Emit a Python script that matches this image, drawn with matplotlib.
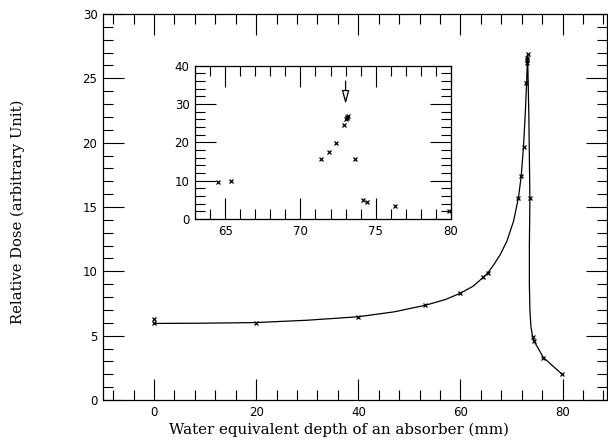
import matplotlib
matplotlib.use("Agg")
import matplotlib.pyplot as plt
from matplotlib.ticker import MultipleLocator

# measured points (depth in mm, relative dose)
depth = [0, 0, 20, 40, 53.1, 60.0, 64.5, 65.4, 71.35, 71.9, 72.35, 72.9,
         73.05, 73.1, 73.1, 73.15, 73.6, 74.15, 74.45, 76.25, 79.9]
dose = [6.3, 5.95, 6.0, 6.47, 7.36, 8.3, 9.55, 9.9, 15.7, 17.4, 19.7, 24.6,
        26.2, 26.4, 26.6, 26.9, 15.7, 4.9, 4.55, 3.3, 2.0]

# smooth guide curve
curve_x = [0, 10, 20, 30, 40, 47, 53.1, 57, 60, 62.5, 64.5, 65.4, 66.5, 67.8,
           69.1, 70.4, 71.35, 71.9, 72.35, 72.7, 72.95, 73.15, 73.4, 73.6,
           73.5, 73.5, 73.6, 73.8, 74.15, 74.45, 76.25, 79.9]
curve_y = [5.95, 5.97, 6.02, 6.2, 6.47, 6.85, 7.36, 7.8, 8.3, 8.85, 9.55, 9.9,
           10.5, 11.3, 12.35, 13.9, 15.7, 17.4, 19.7, 22.3, 24.6, 26.9, 22,
           15.7, 12, 9, 7, 5.7, 4.9, 4.55, 3.3, 2.0]

arrow_x = 73.0
arrow_top = 36.0
arrow_tip = 30.0

plt.rcParams['font.family'] = ['DejaVu Sans']

W, H = 608, 442
fig = plt.figure(figsize=(W / 100, H / 100), dpi=100)

def style(ax, major_len=15, minor_len=7, size=8.5):
    ax.tick_params(which='both', direction='in', top=True, right=True,
                   width=0.8, labelsize=size, pad=4)
    ax.tick_params(which='major', length=major_len)
    ax.tick_params(which='minor', length=minor_len)
    for s in ax.spines.values():
        s.set_linewidth(0.9)

ax = fig.add_axes([103 / W, 42 / H, 504 / W, 386 / H])
ax.plot(curve_x, curve_y, color='black', lw=0.9)
ax.plot(depth, dose, linestyle='none', marker='x', color='black',
        markersize=3, markeredgewidth=0.9)
ax.set_xlim(-10, 88.7)
ax.set_ylim(0, 30)
ax.xaxis.set_major_locator(MultipleLocator(20))
ax.xaxis.set_minor_locator(MultipleLocator(4))
ax.yaxis.set_major_locator(MultipleLocator(5))
ax.yaxis.set_minor_locator(MultipleLocator(1))
style(ax)
ax.set_xlabel('Water equivalent depth of an absorber (mm)',
              family='DejaVu Serif', fontsize=10.8)
ax.set_ylabel('Relative Dose (arbitrary Unit)',
              family='DejaVu Serif', fontsize=10.6)
ax.xaxis.set_label_coords((339 - 103) / 504, -(430 - 400) / 386)
ax.yaxis.set_label_coords(-(103 - 18) / 504, (400 - 212) / 386)
ax.xaxis.label.set_va('center')
ax.yaxis.label.set_va('center')

ins = fig.add_axes([195 / W, (H - 219) / H, 256 / W, 153.3 / H])
ins.plot(depth, dose, linestyle='none', marker='x', color='black',
         markersize=3, markeredgewidth=0.9, clip_on=True)
ins.set_xlim(63, 80)
ins.set_ylim(0, 40)
ins.xaxis.set_major_locator(MultipleLocator(5))
ins.xaxis.set_minor_locator(MultipleLocator(1))
ins.yaxis.set_major_locator(MultipleLocator(10))
ins.yaxis.set_minor_locator(MultipleLocator(2))
style(ins, major_len=15, minor_len=7, size=8.5)
ins.annotate('', xy=(arrow_x, arrow_tip), xytext=(arrow_x, arrow_top),
             arrowprops=dict(arrowstyle='-|>,head_length=0.8,head_width=0.22',
                             facecolor='white', edgecolor='black', lw=0.9,
                             shrinkA=0, shrinkB=0))

fig.savefig('out.png', dpi=100)
